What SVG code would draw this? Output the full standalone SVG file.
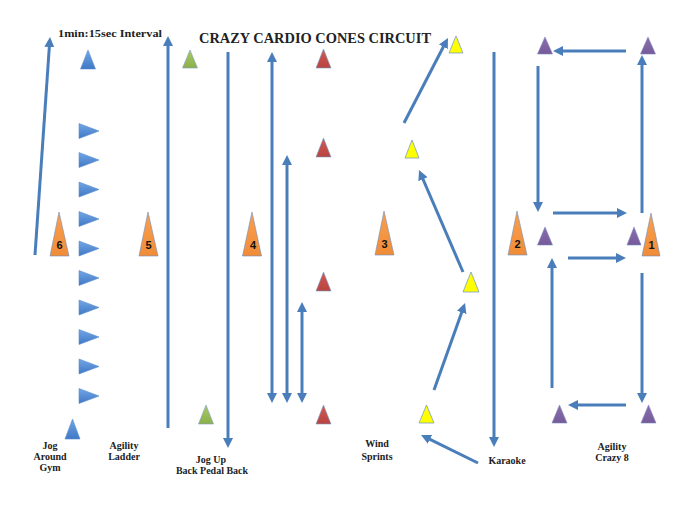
<svg xmlns="http://www.w3.org/2000/svg" width="681" height="520" viewBox="0 0 681 520">
<style>
.ln{stroke:#4a7ebb;stroke-width:3;fill:none;marker-end:url(#ah)}
.dbl{marker-start:url(#ah)}
.nt{stroke:#4a7ebb;stroke-width:3;fill:none}
.lbl{font-family:"Liberation Serif",serif;font-weight:bold;font-size:10px;fill:#222;text-anchor:middle}
.num{font-family:"Liberation Sans",sans-serif;font-weight:bold;font-size:11px;fill:#111;text-anchor:middle}
.bl{fill:url(#gb);stroke:#5b8fd0;stroke-width:0.6}
.gr{fill:url(#gg);stroke:#7aa0c8;stroke-width:0.6}
.rd{fill:url(#gr);stroke:#7aa0c8;stroke-width:0.6}
.ye{fill:#ffff00;stroke:#7a9cc8;stroke-width:0.8}
.pu{fill:url(#gp);stroke:#7a8cc0;stroke-width:0.6}
.or{fill:url(#go);stroke:#6f8fc0;stroke-width:0.6}
</style>
<defs>
<marker id="ah" markerUnits="userSpaceOnUse" viewBox="0 0 10 10" refX="4" refY="5" markerWidth="10" markerHeight="10" orient="auto-start-reverse"><path d="M0,0 L10,5 L0,10 z" fill="#4a7ebb"/></marker>
<linearGradient id="gb" x1="0" y1="0" x2="0" y2="1"><stop offset="0" stop-color="#73a6e6"/><stop offset="1" stop-color="#3f78c4"/></linearGradient>
<linearGradient id="gg" x1="0" y1="0" x2="0" y2="1"><stop offset="0" stop-color="#a8c866"/><stop offset="1" stop-color="#8db04a"/></linearGradient>
<linearGradient id="gr" x1="0" y1="0" x2="0" y2="1"><stop offset="0" stop-color="#d05a56"/><stop offset="1" stop-color="#b8443f"/></linearGradient>
<linearGradient id="gp" x1="0" y1="0" x2="0" y2="1"><stop offset="0" stop-color="#8c6eb0"/><stop offset="1" stop-color="#765a98"/></linearGradient>
<linearGradient id="go" x1="0" y1="0" x2="0" y2="1"><stop offset="0" stop-color="#f9a050"/><stop offset="1" stop-color="#f08c38"/></linearGradient>
</defs>
<rect width="681" height="520" fill="#ffffff"/>

<g id="title">
<text x="315" y="43" font-family="Liberation Serif,serif" font-weight="bold" font-size="15" fill="#222" text-anchor="middle" textLength="232" lengthAdjust="spacingAndGlyphs">CRAZY CARDIO CONES CIRCUIT</text>
<text x="110" y="37" font-family="Liberation Serif,serif" font-weight="bold" font-size="10" fill="#222" text-anchor="middle" textLength="104" lengthAdjust="spacingAndGlyphs">1min:15sec Interval</text>
</g>

<g id="connectors">
<line class="ln" x1="35" y1="255" x2="49.6" y2="43"/>
<line class="ln" x1="168" y1="428" x2="168" y2="42"/>
<line class="ln" x1="228" y1="52" x2="228" y2="442"/>
<line class="ln dbl" x1="272" y1="58" x2="272" y2="397"/>
<line class="ln dbl" x1="287" y1="161" x2="287" y2="397"/>
<line class="ln dbl" x1="302" y1="308" x2="302" y2="397"/>
<line class="ln" x1="404" y1="123" x2="445.2" y2="43.3"/>
<line class="ln" x1="463" y1="272" x2="421.4" y2="175.5"/>
<line class="ln" x1="434" y1="390" x2="463" y2="308.7"/>
<line class="ln" x1="478" y1="463" x2="426.4" y2="437.6"/>
<line class="ln" x1="494" y1="52" x2="494" y2="441"/>
<line class="ln" x1="626" y1="51" x2="559" y2="51"/>
<line class="ln" x1="642" y1="213" x2="642" y2="61"/>
<line class="ln" x1="538" y1="66" x2="538" y2="206"/>
<line class="ln" x1="553" y1="213" x2="621" y2="213"/>
<line class="ln" x1="568" y1="258" x2="620" y2="258"/>
<line class="ln" x1="552" y1="388" x2="552" y2="264"/>
<line class="ln" x1="642" y1="273" x2="642" y2="397"/>
<line class="ln" x1="626" y1="405" x2="574" y2="405"/>
</g>

<g id="station6">
<polygon class="or" points="59,212 69,256 50,256"/>
<text class="num" x="59.5" y="249">6</text>
<polygon class="bl" points="88,50 95.5,69 80.5,69"/>
<polygon class="bl" points="65,439 72.5,419 80,439"/>
<polygon class="bl" points="79,123.5 99,131 79,138.5"/>
<polygon class="bl" points="79,152.5 99,160 79,167.5"/>
<polygon class="bl" points="79,182 99,189.5 79,197"/>
<polygon class="bl" points="79,211.5 99,219 79,226.5"/>
<polygon class="bl" points="79,241 99,248.5 79,256"/>
<polygon class="bl" points="79,270.5 99,278 79,285.5"/>
<polygon class="bl" points="79,300 99,307.5 79,315"/>
<polygon class="bl" points="79,329.5 99,337 79,344.5"/>
<polygon class="bl" points="79,359 99,366.5 79,374"/>
<polygon class="bl" points="79,388.5 99,396 79,403.5"/>
<text class="lbl" x="50" y="449">Jog</text>
<text class="lbl" x="50" y="460">Around</text>
<text class="lbl" x="50" y="471">Gym</text>
<text class="lbl" x="124" y="449">Agility</text>
<text class="lbl" x="124" y="460">Ladder</text>
</g>

<g id="station5">
<polygon class="or" points="148,212 158,256 139,256"/>
<text class="num" x="148.5" y="249">5</text>
<polygon class="gr" points="190,50 197.5,68 182.5,68"/>
<polygon class="gr" points="206,405 213.5,424 198.5,424"/>
<text class="lbl" x="211" y="463">Jog Up</text>
<text class="lbl" x="212" y="474">Back Pedal  Back</text>
</g>

<g id="station4">
<polygon class="or" points="252,212 261.5,256 242.5,256"/>
<text class="num" x="253" y="249">4</text>
<polygon class="rd" points="323.5,49 331,68 316,68"/>
<polygon class="rd" points="323.5,138 331,157 316,157"/>
<polygon class="rd" points="323.5,272 331,291 316,291"/>
<polygon class="rd" points="323.5,405 331,424 316,424"/>
</g>

<g id="station3">
<polygon class="or" points="384,211 394,255 375,255"/>
<text class="num" x="384.5" y="248">3</text>
<polygon class="ye" points="456,36 463,53 449,53"/>
<polygon class="ye" points="412,140 419,158 405,158"/>
<polygon class="ye" points="471,272 479,292 463,292"/>
<polygon class="ye" points="426.5,405 434,423 419,423"/>
<text class="lbl" x="377" y="447">Wind</text>
<text class="lbl" x="377" y="460">Sprints</text>
<text class="lbl" x="507" y="464">Karaoke</text>
</g>

<g id="station2">
<polygon class="or" points="517,211 527,255 508,255"/>
<text class="num" x="517.5" y="248">2</text>
</g>

<g id="station1">
<polygon class="or" points="651,213 660,256 642,256"/>
<text class="num" x="651.5" y="249">1</text>
<polygon class="pu" points="545,37 552.5,54 537.5,54"/>
<polygon class="pu" points="648,37 655.5,54 640.5,54"/>
<polygon class="pu" points="545,227 552.5,245 537.5,245"/>
<polygon class="pu" points="634,227 641,245 627,245"/>
<polygon class="pu" points="559.5,405 567,423 552,423"/>
<polygon class="pu" points="648.5,405 656,423 641,423"/>
<text class="lbl" x="612" y="450">Agility</text>
<text class="lbl" x="612" y="461">Crazy 8</text>
</g>
</svg>
